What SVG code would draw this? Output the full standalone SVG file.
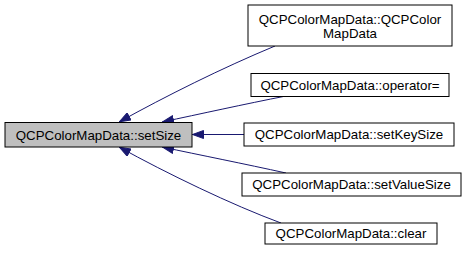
<svg xmlns="http://www.w3.org/2000/svg" width="465" height="255" viewBox="0 0 465 255">
  <style>
    .node rect { fill: #ffffff; stroke: #000000; stroke-width: 1; }
    .node.current rect { fill: #bfbfbf; }
    .node text { font-family: "Liberation Sans", Arial, Helvetica, sans-serif; font-size: 13.3px; fill: #000000; text-anchor: middle; }
    .edge { fill: none; stroke: #191970; stroke-width: 1; }
  </style>
  <defs>
    <marker id="arrow" viewBox="0 0 12 9" refX="12" refY="4.5" markerWidth="12" markerHeight="9" markerUnits="userSpaceOnUse" orient="auto">
      <path d="M0.5,0.5 L11.5,4.5 L0.5,8.5 z" fill="#191970" stroke="#191970" stroke-width="1"/>
    </marker>
  </defs>
  <rect width="465" height="255" fill="#ffffff"/>

  <!-- call edges: each caller points back to setSize -->
  <g id="edges">
    <path class="edge" marker-end="url(#arrow)" d="M275,46 C222,68 166,96 119,122"/>
    <path class="edge" marker-end="url(#arrow)" d="M286,96 C245,104 200,114 162,122"/>
    <path class="edge" marker-end="url(#arrow)" d="M244,134.5 L192,134.5"/>
    <path class="edge" marker-end="url(#arrow)" d="M286,173 C245,164 200,155 162,147"/>
    <path class="edge" marker-end="url(#arrow)" d="M281,223 C232,205 166,173 119,147"/>
  </g>

  <g id="node-setSize" class="node current">
    <rect x="5" y="122.5" width="187" height="24.5"/>
    <text x="98.5" y="139.5">QCPColorMapData::setSize</text>
  </g>
  <g id="node-ctor" class="node">
    <rect x="248" y="5" width="204" height="41"/>
    <text x="350" y="23.5">QCPColorMapData::QCPColor</text>
    <text x="350" y="38">MapData</text>
  </g>
  <g id="node-operator" class="node">
    <rect x="251" y="73.5" width="198" height="23"/>
    <text x="350" y="89.5">QCPColorMapData::operator=</text>
  </g>
  <g id="node-setKeySize" class="node">
    <rect x="244" y="123" width="210" height="23"/>
    <text x="349" y="139">QCPColorMapData::setKeySize</text>
  </g>
  <g id="node-setValueSize" class="node">
    <rect x="242" y="173" width="219" height="23"/>
    <text x="351.5" y="189">QCPColorMapData::setValueSize</text>
  </g>
  <g id="node-clear" class="node">
    <rect x="265" y="223" width="172" height="21"/>
    <text x="351" y="238">QCPColorMapData::clear</text>
  </g>
</svg>
